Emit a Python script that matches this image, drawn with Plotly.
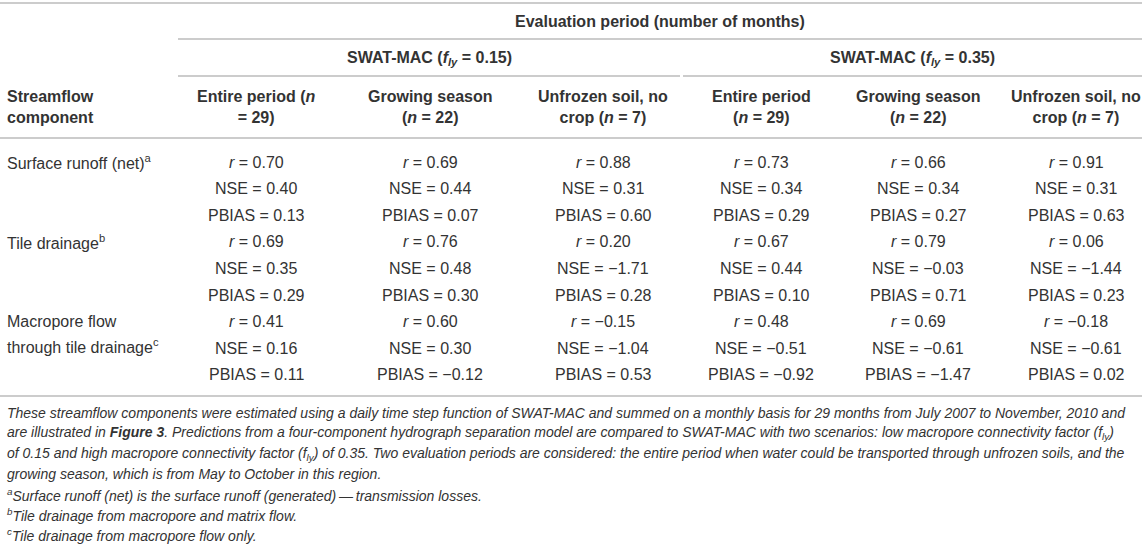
import plotly.graph_objects as go

# ---- data -----------------------------------------------------------------
components = ["Surface runoff (net)<sup>a</sup>",
              "Tile drainage<sup>b</sup>",
              "Macropore flow<br>through tile drainage<sup>c</sup>"]
metrics = ["<i>r</i>", "NSE", "PBIAS"]

scenarios = ["SWAT-MAC (<i>f</i><sub><i>ly</i></sub> = 0.15)",
             "SWAT-MAC (<i>f</i><sub><i>ly</i></sub> = 0.35)"]
periods_015 = ["Entire period (<i>n</i><br>= 29)",
               "Growing season<br>(<i>n</i> = 22)",
               "Unfrozen soil, no<br>crop (<i>n</i> = 7)"]
periods_035 = ["Entire period<br>(<i>n</i> = 29)",
               "Growing season<br>(<i>n</i> = 22)",
               "Unfrozen soil, no<br>crop (<i>n</i> = 7)"]

# rows: metric (r, NSE, PBIAS), columns: entire, growing, unfrozen
surface_015 = [[0.70, 0.69, 0.88], [0.40, 0.44, 0.31], [0.13, 0.07, 0.60]]
tile_015 = [[0.69, 0.76, 0.20], [0.35, 0.48, -1.71], [0.29, 0.30, 0.28]]
macro_015 = [[0.41, 0.60, -0.15], [0.16, 0.30, -1.04], [0.11, -0.12, 0.53]]

surface_035 = [[0.73, 0.66, 0.91], [0.34, 0.34, 0.31], [0.29, 0.27, 0.63]]
tile_035 = [[0.67, 0.79, 0.06], [0.44, -0.03, -1.44], [0.10, 0.71, 0.23]]
macro_035 = [[0.48, 0.69, -0.18], [-0.51, -0.61, -0.61], [-0.92, -1.47, 0.02]]

footnote_lines = [
    "These streamflow components were estimated using a daily time step function of SWAT-MAC and summed on a monthly basis for 29 months from July 2007 to November, 2010 and",
    "are illustrated in <b>Figure 3</b>. Predictions from a four-component hydrograph separation model are compared to SWAT-MAC with two scenarios: low macropore connectivity factor (f<sub>ly</sub>)",
    "of 0.15 and high macropore connectivity factor (f<sub>ly</sub>) of 0.35. Two evaluation periods are considered: the entire period when water could be transported through unfrozen soils, and the",
    "growing season, which is from May to October in this region.",
    "<sup>a</sup>Surface runoff (net) is the surface runoff (generated)\u2009\u2014\u2009transmission losses.",
    "<sup>b</sup>Tile drainage from macropore and matrix flow.",
    "<sup>c</sup>Tile drainage from macropore flow only.",
]

# ---- layout helpers ---------------------------------------------------------
W, H = 1142, 544
TXT = "#333333"
RULE = "#cccccc"
FONT = "Liberation Sans, Arial, sans-serif"

col_x = [256, 430, 603, 761, 918, 1076]       # column centres
group_span = [(178, 680), (683, W)]
row0, row_h = 162, 26.6
foot0, foot_h = 413, 20.4


def fmt(v):
    s = "%.2f" % abs(v)
    return ("\u2212" + s) if v < 0 else s


anns = []


def add(text, x, y, size=16, anchor="center", bold=False, italic=False):
    t = text
    if bold:
        t = "<b>" + t + "</b>"
    if italic:
        t = "<i>" + t + "</i>"
    anns.append(dict(text=t, x=x, y=y, xref="x", yref="y", showarrow=False,
                     xanchor=anchor, yanchor="middle", align=anchor,
                     font=dict(family=FONT, size=size, color=TXT)))


# headers
add("Evaluation period (number of months)", (group_span[0][0] + W) / 2, 21, bold=True)
for (a, b), name in zip(group_span, scenarios):
    add(name, (a + b) / 2, 58, bold=True)
add("Streamflow<br>component", 5, 107, anchor="left", bold=True)
for x, p in zip(col_x, periods_015 + periods_035):
    add(p, x, 107, bold=True)

# body
blocks = [(surface_015, surface_035), (tile_015, tile_035), (macro_015, macro_035)]
for ci, (comp, (b015, b035)) in enumerate(zip(components, blocks)):
    for li, line in enumerate(comp.split("<br>")):
        add(line, 5, row0 + (ci * 3 + li) * row_h - li * 2, anchor="left")
    for mi, m in enumerate(metrics):
        y = row0 + (ci * 3 + mi) * row_h
        vals = b015[mi] + b035[mi]
        for x, v in zip(col_x, vals):
            add("%s = %s" % (m, fmt(v)), x, y)

# footnotes
for i, line in enumerate(footnote_lines):
    add(line, 5, foot0 + i * foot_h, size=14, anchor="left", italic=True)

# rules
shapes = []


def rule(x0, x1, y):
    shapes.append(dict(type="line", xref="x", yref="y", x0=x0, x1=x1, y0=y, y1=y,
                       line=dict(color=RULE, width=2)))


rule(0, W, 3)
rule(group_span[0][0], W, 39)
for a, b in group_span:
    rule(a, b, 76)
rule(0, W, 138)
rule(0, W, 396)

fig = go.Figure()
fig.update_layout(
    width=W, height=H,
    margin=dict(l=0, r=0, t=0, b=0),
    paper_bgcolor="white", plot_bgcolor="white",
    xaxis=dict(range=[0, W], visible=False, fixedrange=True),
    yaxis=dict(range=[H, 0], visible=False, fixedrange=True),
    annotations=anns, shapes=shapes, showlegend=False,
)
fig.write_html("out.html", config={"displayModeBar": False},
               post_script="document.body.style.margin='0';document.body.style.overflow='hidden';")
